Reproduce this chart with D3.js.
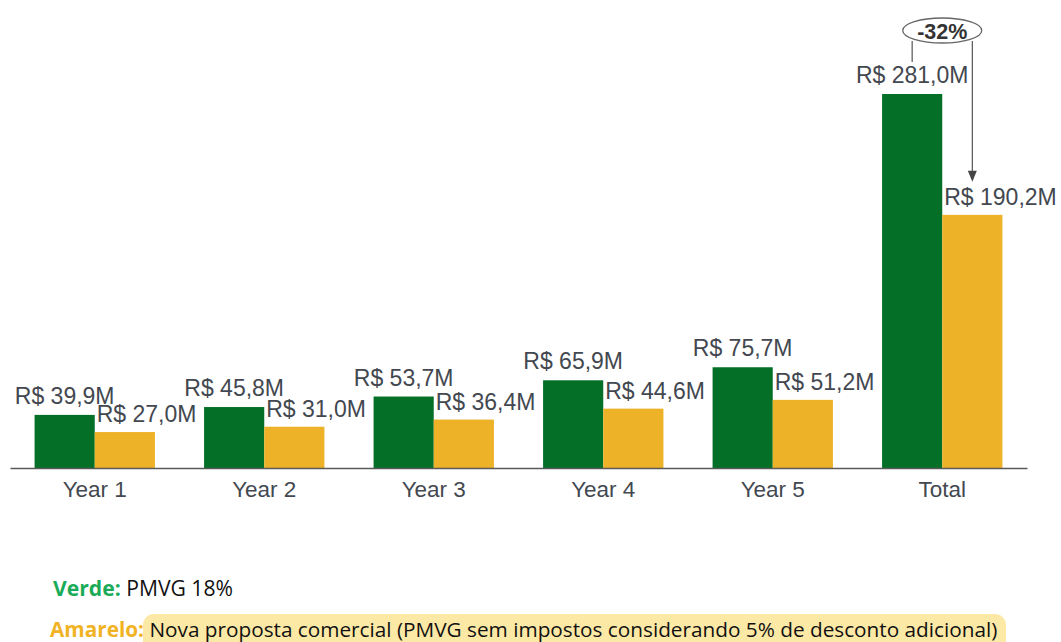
<!DOCTYPE html>
<html>
<head>
<meta charset="utf-8">
<script src="https://cdn.jsdelivr.net/npm/d3@7"></script>
<style>
  body { margin: 0; background: #fff; }
  svg { display: block; }
</style>
</head>
<body>
<svg width="1061" height="642"></svg>
<script>
let greenColor = "#046f26";
let yellowColor = "#edb227";
let labelColor = "#434850";

const categories = ["Year 1", "Year 2", "Year 3", "Year 4", "Year 5", "Total"];
const series = ["verde", "amarelo"];
const verdeValues = [39.9, 45.8, 53.7, 65.9, 75.7, 281.0];
const amareloValues = [27.0, 31.0, 36.4, 44.6, 51.2, 190.2];
const verdeLabels = ["R$ 39,9M", "R$ 45,8M", "R$ 53,7M", "R$ 65,9M", "R$ 75,7M", "R$ 281,0M"];
const amareloLabels = ["R$ 27,0M", "R$ 31,0M", "R$ 36,4M", "R$ 44,6M", "R$ 51,2M", "R$ 190,2M"];
const changeLabel = "-32%";

const svg = d3.select("svg");

let xScale = d3.scaleBand()
    .domain(categories)
    .range([10, 1027])
    .paddingInner(0.29)
    .paddingOuter(0.145);

let xSub = d3.scaleBand()
    .domain(series)
    .range([0, xScale.bandwidth()]);

let yScale = d3.scaleLinear()
    .domain([0, 281])
    .range([468, 94]);

const rows = categories.map((c, i) => ({
    cat: c,
    verde: verdeValues[i], amarelo: amareloValues[i],
    verdeLabel: verdeLabels[i], amareloLabel: amareloLabels[i]
}));

const drawBars = () => {
    let g = svg.selectAll(".group")
        .data(rows)
        .enter().append("g")
        .attr("class", "group")
        .attr("transform", d => `translate(${xScale(d.cat)},0)`);

    g.append("rect")
        .attr("x", xSub("verde"))
        .attr("y", d => yScale(d.verde))
        .attr("width", xSub.bandwidth())
        .attr("height", d => yScale(0) - yScale(d.verde))
        .attr("fill", greenColor);

    g.append("rect")
        .attr("x", xSub("amarelo"))
        .attr("y", d => yScale(d.amarelo))
        .attr("width", xSub.bandwidth())
        .attr("height", d => yScale(0) - yScale(d.amarelo))
        .attr("fill", yellowColor);

    // green labels centred, yellow labels start at the bar's left edge
    g.append("text")
        .attr("x", xSub("verde") + xSub.bandwidth() / 2)
        .attr("y", d => yScale(d.verde) - 11)
        .attr("text-anchor", "middle")
        .attr("font-family", "Liberation Sans, Arial, sans-serif")
        .attr("font-size", 23)
        .attr("fill", labelColor)
        .text(d => d.verdeLabel);

    g.append("text")
        .attr("x", xSub("amarelo") + 2)
        .attr("y", d => yScale(d.amarelo) - 10)
        .attr("text-anchor", "start")
        .attr("font-family", "Liberation Sans, Arial, sans-serif")
        .attr("font-size", 23)
        .attr("fill", labelColor)
        .text(d => d.amareloLabel);
};

const drawAxis = () => {
    let xAxis = d3.axisBottom(xScale).tickSize(0).tickSizeOuter(0);
    let ax = svg.append("g")
        .attr("transform", `translate(0,${yScale(0)})`)
        .call(xAxis);
    ax.select(".domain").attr("stroke", "#5a5a5a").attr("stroke-width", 1.5);
    ax.selectAll("text")
        .attr("y", 29).attr("dy", 0)
        .attr("font-family", "Liberation Sans, Arial, sans-serif")
        .attr("font-size", 22.5)
        .attr("fill", labelColor);
};

const drawChange = () => {
    let last = rows[rows.length - 1];
    let cx = xScale(last.cat) + xScale.bandwidth() / 2;
    let xg = xScale(last.cat) + xSub("verde") + xSub.bandwidth() / 2;
    let xy = xScale(last.cat) + xSub("amarelo") + xSub.bandwidth() / 2;

    svg.append("line")
        .attr("x1", xg).attr("x2", xg).attr("y1", 41).attr("y2", yScale(last.verde) - 32)
        .attr("stroke", "#555").attr("stroke-width", 1.2);

    svg.append("line")
        .attr("x1", xy).attr("x2", xy).attr("y1", 41).attr("y2", yScale(last.amarelo) - 42)
        .attr("stroke", "#555").attr("stroke-width", 1.2);

    let tipY = yScale(last.amarelo) - 33;
    svg.append("path")
        .attr("d", `M${xy - 4.5},${tipY - 11} L${xy + 4.5},${tipY - 11} L${xy},${tipY} Z`)
        .attr("fill", "#444");

    svg.append("ellipse")
        .attr("cx", cx).attr("cy", 30.5)
        .attr("rx", 39.5).attr("ry", 12.5)
        .attr("fill", "#fff")
        .attr("stroke", "#666").attr("stroke-width", 1.3);

    svg.append("text")
        .attr("x", cx).attr("y", 39)
        .attr("text-anchor", "middle")
        .attr("font-family", "Liberation Sans, Arial, sans-serif")
        .attr("font-weight", "bold")
        .attr("font-size", 21.5)
        .attr("fill", "#333")
        .text(changeLabel);
};

// fit a line of text so it ends at targetEnd
const fitText = (t, targetEnd) => {
    let x0 = +t.attr("x");
    let size = +t.attr("font-size");
    let w = t.node().getComputedTextLength();
    t.attr("font-size", size * (targetEnd - x0) / w);
};

const drawNotes = () => {
    let font = "Open Sans, sans-serif";

    let t1 = svg.append("text")
        .attr("x", 53).attr("y", 596)
        .attr("font-family", font)
        .attr("font-size", 20);
    t1.append("tspan").attr("fill", "#1aab58").attr("font-weight", "bold").text("Verde:");
    t1.append("tspan").attr("fill", "#111").text(" PMVG 18%");
    fitText(t1, 233);

    svg.append("rect")
        .attr("x", 143).attr("y", 614)
        .attr("width", 863).attr("height", 40)
        .attr("rx", 11)
        .attr("fill", "#fde9a6");

    let t2 = svg.append("text")
        .attr("x", 50).attr("y", 637)
        .attr("font-family", font)
        .attr("font-size", 20);
    t2.append("tspan").attr("fill", "#f1b324").attr("font-weight", "bold").text("Amarelo:");
    t2.append("tspan").attr("fill", "#111")
        .text(" Nova proposta comercial (PMVG sem impostos considerando 5% de desconto adicional)");
    fitText(t2, 998);
};

drawBars();
drawAxis();
drawChange();
drawNotes();
</script>
</body>
</html>
